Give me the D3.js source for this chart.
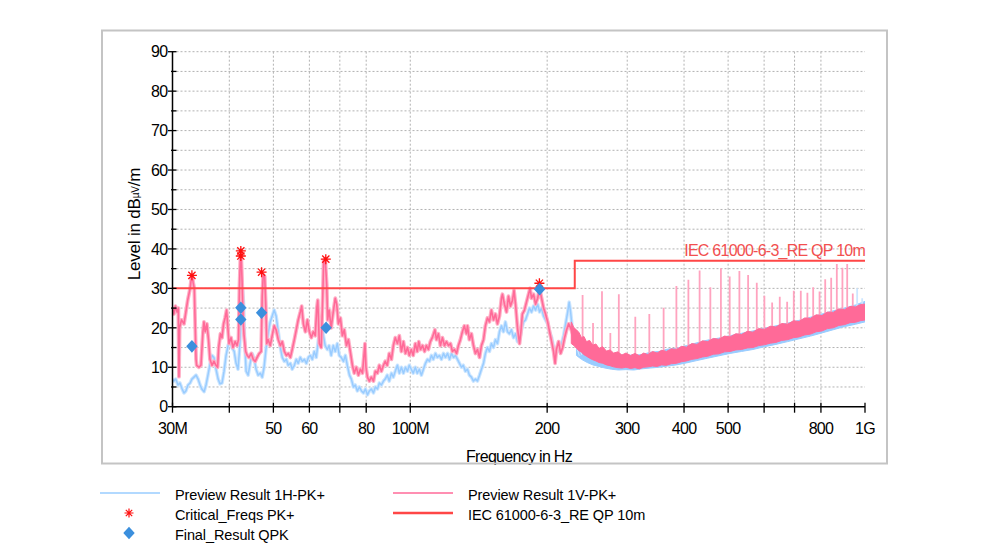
<!DOCTYPE html>
<html><head><meta charset="utf-8">
<script src="https://cdn.jsdelivr.net/npm/d3@7"></script>
<style>
html,body{margin:0;padding:0;background:#fff;}
svg{display:block;font-family:'Liberation Sans',Arial,sans-serif;}
</style></head><body>
<svg id="c" width="982" height="555"></svg>
<script>
// ---------------- DATA ----------------
const xTickVals = [30,40,50,60,70,80,100,200,300,400,500,600,700,800,1000];
const xLabelVals = [30,50,60,80,100,200,300,400,500,800,1000];
const xLabelText = ["30M","50","60","80","100M","200","300","400","500","800","1G"];
const xGridVals = [40,50,60,70,80,100,200,300,400,500,600,700,800];
const yTicks = [0,10,20,30,40,50,60,70,80,90];
const yMinor = [5,15,25,35,45,55,65,75,85];

const limitF = [30,230,230,1000];
const limitL = [30,30,37,37];
const limitName = "IEC 61000-6-3_RE QP 10m";

// Preview Result 1V-PK+ (pink), 30-232 MHz
const pinkLow = [
[30.0,25],[30.2,23.5],[30.45,25.5],[30.7,24],[30.9,25],[31.0,7.6],[31.1,20],[31.4,22],[31.8,21],[32.1,24],[32.4,27],[32.8,30],[33.0,32.5],[33.15,33.2],[33.3,31.5],[33.5,30],[33.8,12],[33.9,10.5],[34.3,10],[34.65,10.5],[35.0,19],[35.18,21.5],[35.4,19],[35.7,21],[36.0,17],[36.27,12],[36.64,10.5],[37.0,11.5],[37.4,10.5],[37.7,10],[37.9,15],[38.25,18.5],[38.55,17.5],[38.85,21],[39.15,22.5],[39.45,24.5],[39.65,21],[39.95,16],[40.35,17.5],[40.75,15],[41.2,16.5],[41.6,15.5],[41.9,17],[42.1,30],[42.35,39.5],[42.5,37.5],[42.67,32],[42.9,22],[43.1,18],[43.45,14],[43.8,13],[44.2,12.5],[44.7,13.5],[45.15,12],[45.6,11.5],[46.05,12.5],[46.55,13.5],[47.0,14],[47.25,28],[47.5,33.5],[47.85,33],[48.1,26],[48.35,16],[48.7,17],[49.2,15.5],[49.7,18],[50.2,20.5],[50.7,19.5],[51.25,17],[51.8,15.5],[52.3,16.5],[52.85,14],[53.4,13],[53.9,13.5],[54.5,12.5],[55.0,14.5],[55.6,17],[56.15,19.5],[56.7,22],[57.3,24],[57.7,25.5],[58.2,21],[58.8,19],[59.4,22],[60.0,19],[60.6,17.5],[61.2,19],[61.8,18],[62.3,25],[62.6,27],[63.1,16],[63.7,15],[64.2,28],[64.5,37],[65.0,37.5],[65.5,31],[65.8,22],[66.3,24.5],[67.0,20],[67.7,24],[68.4,27.5],[68.9,26],[69.5,21],[70.2,22.5],[70.9,18],[71.6,19.5],[72.4,15.5],[73.1,17],[73.8,14],[74.6,10.5],[75.3,8.5],[76.1,10],[76.9,8],[77.7,9.5],[78.5,8.5],[79.5,16],[79.9,10],[80.5,7.5],[81.3,6.5],[82.1,7.5],[83.0,6.5],[83.8,9],[84.7,8.5],[85.5,10.5],[86.4,9],[87.3,10.5],[88.1,11.5],[89.0,10.5],[89.9,13.5],[90.9,12],[91.8,15.5],[92.7,17.5],[93.7,16],[94.6,18],[95.6,14],[96.6,16.5],[97.6,13.5],[98.6,15],[99.5,13],[100.5,14.5],[101.5,13],[102.6,16],[103.6,14],[104.4,16.5],[105.3,14.5],[106.4,15.5],[107.5,14],[108.5,15.5],[109.6,14.5],[110.7,16.5],[111.8,17.5],[113.3,19.5],[114.2,17],[115.3,18.5],[116.5,15.5],[117.7,17.5],[118.9,15.5],[120.1,16.5],[121.4,15.5],[122.6,16],[123.8,14],[125.1,14.5],[126.4,13.5],[127.6,15.5],[128.9,17],[130.2,19],[131.5,20.5],[132.9,18.5],[133.6,20.5],[134.9,17],[136.3,18.5],[137.7,15.5],[139.1,13.5],[140.5,14.5],[142.0,12.5],[143.4,15.5],[144.9,17],[146.3,20.5],[147.8,22.5],[149.3,21.5],[150.8,24.5],[152.4,22],[153.9,23.5],[155.5,21],[157.1,23],[158.7,27.5],[159.5,28.5],[161.1,26],[162.8,24],[164.4,28],[166.1,25.5],[167.8,27],[169.1,29.5],[170.4,26],[172.1,20],[173.9,16],[175.1,19],[176.4,23.5],[178.3,24.5],[180.1,26.5],[182.0,28.5],[183.4,30],[184.8,27.5],[186.7,28.5],[188.6,26],[190.6,27.5],[192.5,30],[194.4,27.5],[196.4,25],[198.4,23.5],[200.5,21.5],[202.5,19],[204.6,16.5],[206.6,14],[208.2,11],[209.6,14.5],[211.9,16.5],[214.1,13.5],[216.3,15],[218.5,17.5],[220.7,19.5],[223.0,21],[225.2,20],[227.5,18.5],[229.8,17],[232.2,16]
];
// Preview Result 1V-PK+ noise band, 226 MHz-1 GHz: [MHz, low dB, high dB]
const pinkBand = [
[226,16,21.5],[229,15.5,20],[232,14.8,19.5],[235,14.2,18.8],[238,13.8,17.5],[241,13.2,17.8],[244,12.8,16.5],[248,12.3,16.8],[252,11.9,15.6],[256,11.6,15.9],[260,11.2,14.8],[265,11,15.2],[270,10.6,14.1],[275,10.4,14.4],[280,10.1,13.6],[286,9.9,13.9],[292,9.8,13.1],[298,10,13.6],[305,9.7,13],[312,9.9,13.5],[319,9.6,12.9],[326,10,13.6],[333,10.1,13.2],[341,10.3,14],[349,10.2,13.6],[357,10.6,14.3],[366,10.5,14],[375,10.9,14.7],[385,11,14.5],[395,11.4,15.3],[405,11.6,15.1],[416,12,16],[427,12.2,15.8],[439,12.6,16.7],[451,12.8,16.5],[464,13.3,17.3],[477,13.4,17.1],[491,13.9,17.9],[505,14,17.7],[520,14.4,18.5],[535,14.5,18.3],[551,14.9,19.1],[567,15,18.9],[584,15.5,19.8],[601,15.7,19.6],[619,16.1,20.4],[637,16.3,20.2],[656,16.8,21.1],[676,17,20.9],[696,17.5,21.8],[716,17.7,21.6],[737,18.2,22.5],[759,18.4,22.4],[781,19,23.3],[804,19.2,23.1],[827,19.8,24],[851,20,23.9],[876,20.6,24.8],[901,20.8,24.6],[927,21.3,25.4],[953,21.4,25.3],[977,21.8,25.9],[1000,22,26]
];
// Narrow peaks on the 1V trace: [MHz, peak dB]
const pinkSpikes = [
[239.3,28.3],[252.3,21.2],[264.0,29.3],[275.4,18.7],[287.5,28.5],[312.5,22.8],[335.5,23.5],[360.7,25.1],[384.8,30.6],[408.9,32.2],[432.8,34.5],[457.0,30.3],[482.1,35.1],[504.0,33.0],[529.4,34.4],[553.3,33.4],[578.1,31.4],[600.8,28.1],[624.9,26.4],[649.5,27.9],[674.2,26.6],[697.2,29.4],[722.5,29.4],[747.0,28.9],[769.2,30.3],[794.4,29.2],[817.5,32.3],[842.6,32.7],[867.0,36.2],[892.0,35.2],[913.8,36.2],[939.9,28.7]
];

// Preview Result 1H-PK+ (blue), 30-237 MHz
const blueLow = [
[30.0,7],[30.2,6.5],[30.5,7],[30.85,5.5],[31.15,6],[31.5,4.5],[31.8,3.5],[32.1,4],[32.45,5.5],[32.8,6],[33.1,7],[33.45,7.5],[33.8,8],[34.15,7],[34.5,5.5],[34.8,4.5],[35.2,3.8],[35.55,5.5],[35.9,8],[36.3,11],[36.65,13],[37.0,12.5],[37.4,9.5],[37.8,7],[38.15,5.8],[38.55,6],[38.95,9],[39.35,13],[39.75,15.5],[40.15,17],[40.55,15],[41.0,14],[41.4,11],[41.8,9.5],[42.1,14],[42.45,22],[42.8,29.5],[43.0,26],[43.2,18],[43.55,9],[44.0,8],[44.45,11],[44.9,13.5],[45.4,12],[45.8,9.5],[46.3,8],[46.8,8.5],[47.25,7.5],[47.7,10],[48.2,15],[48.7,18.5],[49.2,21.5],[49.7,23],[50.2,24.5],[50.7,23],[51.25,19],[51.8,15],[52.3,12.5],[52.85,11.5],[53.4,12],[53.9,10.5],[54.5,11],[55.0,9.5],[55.6,10.5],[56.15,12],[56.7,11],[57.3,12.5],[57.9,11.5],[58.5,12],[59.1,11],[59.7,12.5],[60.3,13],[60.9,12],[61.5,14],[62.15,12.5],[62.8,17],[63.4,20.5],[63.9,22.5],[64.4,18],[65.0,15.5],[65.7,14.5],[66.3,15.5],[67.0,13],[67.7,15.5],[68.4,14],[69.1,16],[69.8,13],[70.5,12.5],[71.3,11.5],[72.0,13],[72.7,10.5],[73.5,8],[74.2,7],[75.0,5],[75.7,5.5],[76.5,4],[77.3,5],[78.1,4],[78.9,3.5],[79.7,4.5],[80.5,3],[81.3,4],[82.1,4.5],[83.0,3.5],[83.8,5],[84.7,4.5],[85.5,6],[86.4,5.5],[87.3,6.5],[88.1,7],[89.0,8],[89.9,6.5],[90.9,8.5],[91.8,7.5],[92.7,9],[93.7,10.5],[94.6,8.5],[95.6,10],[96.6,8.5],[97.6,10],[98.6,9],[99.5,10.5],[100.5,9.5],[101.5,8.5],[102.6,10],[103.6,8.5],[104.7,9.5],[105.8,8],[106.9,9.5],[108.0,11],[109.1,12],[110.2,11.5],[111.3,13],[112.4,12],[113.6,13.5],[114.7,12.5],[115.9,13],[117.1,12],[118.3,13.5],[119.5,12.5],[120.8,13.5],[122.0,12],[123.2,13.5],[124.5,12.5],[125.7,13],[127.0,12],[128.3,11],[129.6,10],[130.8,10.5],[132.2,9],[133.6,9.5],[134.9,8],[136.3,7.5],[137.7,6.5],[139.1,7],[140.5,6.5],[142.0,8],[143.4,9.5],[144.9,11],[146.3,13.5],[147.8,15],[149.3,14],[150.8,16],[152.4,15],[153.9,17],[155.5,16],[157.1,19],[158.7,20.5],[160.3,19],[161.9,21.5],[163.6,19],[165.2,18.5],[166.9,19.5],[168.7,17.5],[170.4,18.5],[172.1,16.5],[173.9,17],[175.6,19.5],[177.4,21.5],[179.2,22],[181.1,23.5],[182.9,25],[184.8,24],[186.7,25.5],[188.6,24.5],[190.6,26],[192.5,24],[194.4,25],[196.4,23],[198.4,22],[200.5,21],[202.5,19],[204.6,17.5],[206.6,15],[208.7,13.5],[210.8,15],[213.0,14],[215.2,16],[217.4,18],[219.6,21],[221.9,24],[223.6,26.5],[225.2,24],[227.5,19],[229.8,17.5],[232.2,16],[234.6,14.5],[236.9,13]
];
const blueBand = [
[232,13,18.5],[238,12,17],[245,11.2,16],[252,10.6,15.2],[260,10.2,14.6],[268,9.8,14],[277,9.5,13.6],[287,9.3,13.2],[298,9.4,13],[310,9.3,13.1],[323,9.6,13.2],[337,9.8,13.8],[352,10,14],[368,10.3,14.6],[385,10.6,14.8],[405,11.1,15.5],[427,11.7,16.2],[451,12.3,16.9],[477,12.9,17.4],[505,13.5,18],[535,14,18.6],[567,14.5,19.2],[601,15.2,19.9],[637,15.8,20.5],[676,16.5,21.2],[716,17.2,21.9],[759,17.9,22.7],[804,18.7,23.5],[851,19.5,24.3],[901,20.3,25],[953,20.9,25.8],[1000,21.5,26.7]
];
const blueSpikes = [[961,30],[985.8,27.5]];

// Critical_Freqs PK+
const critF = [33.1,42.4,42.4,47.1,65.2,192.3];
const critL = [33.3,39.5,38.2,34.1,37.4,31.3];
// Final_Result QPK
const finalF = [33.1,42.4,42.4,47.1,65.3,192.5];
const finalL = [15.3,25.1,22.1,23.8,20.0,29.8];

const legendNames = ["Preview Result 1H-PK+","Critical_Freqs PK+","Final_Result QPK","Preview Result 1V-PK+","IEC 61000-6-3_RE QP 10m"];

// ---------------- CHART ----------------
const svg = d3.select('#c');
const x = d3.scaleLog().domain([30,1000]).range([172.5,865]);
const y = d3.scaleLinear().domain([0,90]).range([406.7,51.7]);
const X0 = x.range()[0], X1 = x.range()[1];

const C = {blue:'#99ccff', blueHalo:'#cde6ff', pink:'#ff6a98', pinkHalo:'#ffb0c7', limit:'#ff4646',
           crit:'#ff1010', final:'#3b8fdd', grid:'#b2b2b2'};

// grid
const g = svg.append('g');
g.selectAll('.hg').data(yMinor.concat(yTicks.slice(1))).enter().append('line')
  .attr('x1',X0).attr('x2',X1).attr('y1',d=>y(d)).attr('y2',d=>y(d))
  .attr('stroke',C.grid).attr('stroke-width',1).attr('stroke-dasharray','2,2');
g.selectAll('.vg').data(xGridVals).enter().append('line')
  .attr('x1',d=>x(d)).attr('x2',d=>x(d)).attr('y1',y(90)).attr('y2',y(0))
  .attr('stroke',C.grid).attr('stroke-width',1).attr('stroke-dasharray','2,2');

svg.append('clipPath').attr('id','pc').append('rect')
  .attr('x',X0).attr('y',y(90)).attr('width',X1-X0).attr('height',y(0)-y(90));
const plot = svg.append('g').attr('clip-path','url(#pc)');

const line = d3.line().x(d=>x(d[0])).y(d=>y(d[1]));
const area = d3.area().x(d=>x(d[0])).y0(d=>y(d[1])).y1(d=>y(d[2]));
const bis = d3.bisector(d=>d[0]).left;
const bandMid = (band,f)=>{const r=band[Math.min(band.length-1,bis(band,f))];return (r[1]+r[2])/2;};

// blue series
plot.append('path').datum(blueBand).attr('d',area).attr('fill',C.blue).attr('stroke',C.blue).attr('stroke-width',1);
plot.selectAll('.bs').data(blueSpikes).enter().append('line')
  .attr('x1',d=>x(d[0])).attr('x2',d=>x(d[0])).attr('y1',d=>y(d[1])).attr('y2',d=>y(bandMid(blueBand,d[0])))
  .attr('stroke',C.blueHalo).attr('stroke-width',1.8);
plot.append('path').datum(blueLow).attr('d',line).attr('fill','none').attr('stroke',C.blueHalo).attr('stroke-width',3.6).attr('stroke-linejoin','round');
plot.append('path').datum(blueLow).attr('d',line).attr('fill','none').attr('stroke',C.blue).attr('stroke-width',1.5).attr('stroke-linejoin','round');

// pink series
plot.selectAll('.ps').data(pinkSpikes).enter().append('line')
  .attr('x1',d=>x(d[0])).attr('x2',d=>x(d[0])).attr('y1',d=>y(d[1])).attr('y2',d=>y(bandMid(pinkBand,d[0])))
  .attr('stroke','#ffa3bf').attr('stroke-width',1.8);
plot.append('path').datum(pinkLow).attr('d',line).attr('fill','none').attr('stroke',C.pinkHalo).attr('stroke-width',3.8).attr('stroke-linejoin','round');
plot.append('path').datum(pinkLow).attr('d',line).attr('fill','none').attr('stroke',C.pink).attr('stroke-width',1.6).attr('stroke-linejoin','round');
plot.append('path').datum(pinkBand).attr('d',area).attr('fill',C.pink).attr('stroke',C.pink).attr('stroke-width',1).attr('stroke-linejoin','round');

// limit line
const limitData = limitF.map((f,i)=>[f,limitL[i]]);
svg.append('path').datum(limitData).attr('d',line).attr('fill','none').attr('stroke',C.limit).attr('stroke-width',2);
svg.append('text').attr('x',X1).attr('y',y(37)-4.5).attr('text-anchor','end')
  .attr('font-size',16).attr('letter-spacing','-0.75px').attr('fill','#f24f4f').text(limitName);

// markers
const diamond = 'M0,-6.3L5.7,0L0,6.3L-5.7,0Z';
const star = 'M-5,0H5M0,-5V5M-3.6,-3.6L3.6,3.6M-3.6,3.6L3.6,-3.6';
svg.selectAll('.cr').data(critF).enter().append('path')
  .attr('transform',(d,i)=>`translate(${x(d)},${y(critL[i])})`).attr('d',star)
  .attr('stroke',C.crit).attr('stroke-width',1.3).attr('fill','none');
svg.selectAll('.fr').data(finalF).enter().append('path')
  .attr('transform',(d,i)=>`translate(${x(d)},${y(finalL[i])})`).attr('d',diamond)
  .attr('fill',C.final);

// axes
const ax = svg.append('g').attr('stroke','#000');
ax.append('line').attr('x1',X0).attr('x2',X0).attr('y1',y(90)).attr('y2',y(0)).attr('stroke-width',1.5);
ax.append('line').attr('x1',X0).attr('x2',X1).attr('y1',y(0)).attr('y2',y(0)).attr('stroke-width',1.5);
ax.selectAll('.yt').data(yTicks).enter().append('line')
  .attr('x1',X0-4.5).attr('x2',X0+4).attr('y1',d=>y(d)).attr('y2',d=>y(d)).attr('stroke-width',1.3);
ax.selectAll('.ym').data(yMinor).enter().append('line')
  .attr('x1',X0-1.5).attr('x2',X0+4).attr('y1',d=>y(d)).attr('y2',d=>y(d)).attr('stroke-width',1.3);
ax.selectAll('.xt').data(xTickVals).enter().append('line')
  .attr('x1',d=>x(d)).attr('x2',d=>x(d)).attr('y1',y(0)-4).attr('y2',y(0)+6).attr('stroke-width',1.3);

const tl = svg.append('g').attr('font-size',16).attr('fill','#000').attr('letter-spacing','-0.7px');
tl.selectAll('.yl').data(yTicks).enter().append('text')
  .attr('x',X0-5).attr('y',d=>y(d)).attr('dy','0.36em').attr('text-anchor','end').text(d=>d);
tl.selectAll('.xl').data(xLabelVals).enter().append('text')
  .attr('x',d=>x(d)).attr('y',433.5).attr('text-anchor','middle').text((d,i)=>xLabelText[i]);

tl.append('text').attr('x',519).attr('y',462).attr('text-anchor','middle').text('Frequency in Hz');
const yl = tl.append('text').attr('transform','translate(140,224) rotate(-90)').attr('text-anchor','middle')
  .attr('font-size',17).attr('letter-spacing','-0.2px');
yl.append('tspan').text('Level in dB');
yl.append('tspan').attr('font-size',10).attr('dy','-1').text('µV');
yl.append('tspan').attr('dy','1').text('/m');

// frame
svg.append('rect').attr('x',102).attr('y',30.5).attr('width',785).attr('height',433)
  .attr('fill','none').attr('stroke','#c4c4c4').attr('stroke-width',2);

// legend
const lg = svg.append('g').attr('font-size',14.5).attr('letter-spacing','-0.1px').attr('fill','#000');
lg.append('line').attr('x1',100).attr('x2',160).attr('y1',493).attr('y2',493).attr('stroke',C.blue).attr('stroke-width',1.3);
lg.append('path').attr('transform','translate(129,513)').attr('d','M-4.5,0H4.5M0,-4.5V4.5M-3.2,-3.2L3.2,3.2M-3.2,3.2L3.2,-3.2').attr('stroke',C.crit).attr('stroke-width',1.2);
lg.append('path').attr('transform','translate(129,533)').attr('d',diamond).attr('fill',C.final);
lg.append('line').attr('x1',393).attr('x2',453).attr('y1',493).attr('y2',493).attr('stroke',C.pink).attr('stroke-width',1.3);
lg.append('line').attr('x1',393).attr('x2',453).attr('y1',513).attr('y2',513).attr('stroke',C.limit).attr('stroke-width',2.5);
const lpos = [[175,495],[175,514.5],[175,534.5],[468,495],[468,514.5]];
lg.selectAll('.lt').data(legendNames).enter().append('text')
  .attr('x',(d,i)=>lpos[i][0]).attr('y',(d,i)=>lpos[i][1]).attr('dy','0.36em').text(d=>d);
</script>
</body></html>
